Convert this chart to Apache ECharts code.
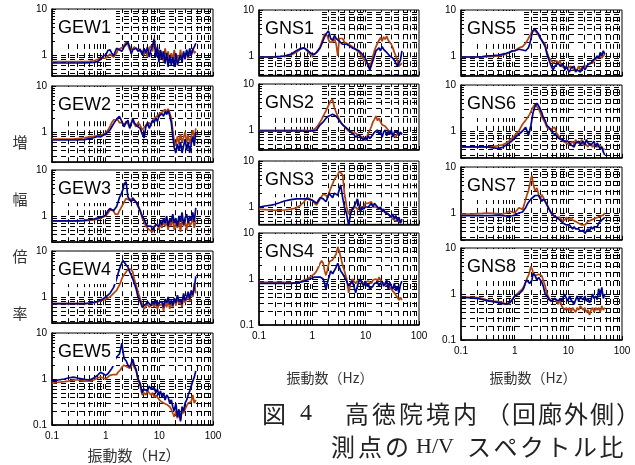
<!DOCTYPE html>
<html>
<head>
<meta charset="utf-8">
<script src="https://cdn.jsdelivr.net/npm/echarts@6/dist/echarts.min.js"></script>
<style>
html, body { margin: 0; padding: 0; background: #fff; }
#chart { width: 635px; height: 465px; }
</style>
</head>
<body>
<div id="chart"></div>
<script>
// Frequency samples (Hz) shared by every H/V curve
const freq = [
  0.1, 0.13, 0.17, 0.2, 0.25, 0.3, 0.4, 0.5, 0.6, 0.7, 0.8, 0.9,
  1.0, 1.1, 1.2, 1.3, 1.4, 1.5, 1.6, 1.7, 1.8, 1.9, 2.0, 2.1, 2.2, 2.4, 2.6, 2.8, 3.0, 3.2, 3.4, 3.7, 4.0, 4.4,
  4.8, 5.2, 5.6, 6.0, 6.5, 7.0, 7.5, 8.0, 8.6, 9.2, 9.8, 10.5, 11.2, 12, 12.8, 13.7, 14.6, 15.6, 16.7, 17.8,
  19, 20.3, 21.7, 23.2, 24.8, 26.5, 28.3, 30.2, 32.3, 34.5, 36.8, 39.3, 42, 44.8, 47.8
];

// H/V spectral ratios: *_o = orange trace, *_b = blue trace
const GEW1_o = [
  0.72,0.72,0.72,0.72,0.72,0.72,0.72,0.73,0.75,0.8,0.85,0.85,
  0.85,0.95,1.05,1.0,0.9, 0.95,1.1,1.3,1.2,1.4, 1.3,1.5,1.6,1.9,1.7, 1.3,1.2,1.35,1.5,1.4, 1.3,1.2,
  1.2,1.0,1.3,0.9,1.4, 1.6,1.2,2.3,1.4,1.0, 1.3,0.8,1.2,0.7,1.4, 0.9,1.2,0.75,1.1,0.8, 1.3,0.7,1.0,0.75,1.3, 0.8,1.1,0.9,1.2,0.85, 1.3,1.0,1.4,1.1,1.2
];
const GEW1_b = [
  0.67,0.67,0.67,0.67,0.67,0.67,0.67,0.68,0.69,0.72,0.8,0.95,
  1.0,1.25,1.3,1.1,0.95, 1.0,1.4,1.5,1.3,1.35, 1.2,1.3,1.5,1.7,1.9, 1.5,1.05,1.3,1.2,1.4, 1.2,1.35,
  1.0,1.4,1.1,1.5,0.9, 1.3,1.6,2.2,0.9,1.5, 0.7,1.3,0.8,1.2,0.65, 1.1,0.55,1.0,0.6,0.9, 0.55,1.1,0.6,0.8,1.0, 0.7,1.2,0.8,1.3,0.9, 1.4,1.0,1.3,1.5,1.8
];
const GEW2_o = [
  0.7,0.7,0.7,0.7,0.7,0.72,0.75,0.78,0.8,0.82,0.85,0.9,
  0.95,1.1,1.3,1.6,1.8, 2.0,2.0,1.8,1.6,1.5, 1.6,1.5,1.4,1.7,1.5, 1.3,1.6,1.8,1.5,1.3, 1.6,1.4,
  1.1,1.0,1.4,1.3,1.6, 1.4,1.8,1.7,2.1,1.9, 2.4,2.2,2.7,2.5,3.1, 2.7,3.2,2.6,2.0,1.1, 0.6,0.5,0.8,0.55,0.9, 0.6,0.75,1.0,0.6,0.85, 0.55,0.8,1.1,0.7,1.2
];
const GEW2_b = [
  0.67,0.67,0.67,0.67,0.67,0.67,0.68,0.72,0.75,0.8,0.78,0.85,
  0.9,1.0,1.1,1.3,1.5, 1.7,1.9,2.1,2.2,2.0, 1.7,1.5,1.3,1.6,1.8, 1.2,1.5,2.0,1.6,1.4, 1.5,1.2,
  0.9,0.75,1.3,1.6,1.2, 1.5,1.8,1.6,2.0,1.7, 2.2,2.0,2.5,2.2,2.8, 2.4,2.9,2.3,1.6,0.8, 0.45,0.35,0.55,0.4,0.6, 0.35,0.5,0.7,0.4,0.6, 0.35,0.55,0.8,0.5,1.0
];
const GEW3_o = [
  0.78,0.78,0.78,0.78,0.78,0.78,0.79,0.8,0.82,0.85,0.9,0.95,
  1.0,1.15,1.35,1.45,1.3, 1.1,1.0,1.1,1.3,1.45, 1.6,1.8,2.0,2.4,2.3, 2.2,2.3,2.5,2.4,2.0, 1.6,1.3,
  0.9,0.75,0.6,0.55,0.5, 0.55,0.45,0.6,0.55,0.65, 0.5,0.7,0.55,0.8,0.6, 0.75,0.5,0.8,0.6,0.9, 0.5,0.7,0.55,0.8,0.45, 0.9,0.6,0.75,0.5,0.85, 0.6,0.7,0.9,0.55,0.8
];
const GEW3_b = [
  0.78,0.78,0.78,0.78,0.78,0.78,0.8,0.83,0.86,0.9,0.93,0.98,
  1.05,1.3,1.45,1.4,1.3, 1.35,1.6,2.0,2.5,2.8, 3.0,3.8,5.0,5.5,2.6, 2.4,2.0,2.4,2.6,2.0, 1.7,1.3,
  1.0,0.85,0.7,0.6,0.55, 0.6,0.5,0.55,0.65,0.7, 0.6,0.8,0.65,0.9,0.7, 1.0,0.6,0.85,0.75,1.1, 0.7,0.9,0.6,1.0,0.75, 1.2,0.65,0.9,1.1,0.7, 1.0,0.8,1.2,0.75,1.5
];
const GEW4_o = [
  0.72,0.72,0.72,0.72,0.72,0.72,0.72,0.73,0.75,0.78,0.82,0.86,
  0.9,0.95,1.0,1.1,1.2, 1.3,1.4,1.6,1.8,2.1, 2.5,2.8,3.0,3.5,4.0, 4.2,4.0,3.5,2.5,1.8, 1.3,0.9,
  0.7,0.55,0.6,0.7,0.6, 0.55,0.7,0.6,0.75,0.55, 0.65,0.6,0.7,0.5,0.8, 0.6,0.85,0.55,0.75,0.6, 0.9,0.65,1.0,0.7,0.8, 0.6,1.1,0.75,0.9,1.2, 0.8,1.3,1.0,2.0,1.2
];
const GEW4_b = [
  0.72,0.72,0.72,0.72,0.72,0.72,0.72,0.74,0.77,0.8,0.85,0.92,
  1.0,1.1,1.2,1.3,1.6, 2.0,2.5,3.2,4.0,4.8, 5.5,6.2,6.5,5.0,4.5, 3.5,3.0,2.5,2.0,1.5, 1.0,0.8,
  0.6,0.55,0.7,0.8,0.75, 0.65,0.8,0.7,0.85,0.65, 0.75,0.7,0.8,0.6,0.9, 0.75,1.0,0.7,0.85,0.65, 0.95,0.75,1.1,0.8,0.9, 0.7,1.2,0.85,1.0,1.3, 0.9,1.4,1.1,1.6,2.8
];
const GEW5_o = [
  0.8,0.85,0.88,0.9,0.95,0.95,0.9,0.9,0.95,1.05,1.1,1.05,
  1.0,1.1,1.2,1.15,1.25, 1.3,1.25,1.4,1.5,1.6, 1.8,1.7,2.0,1.9,1.8, 1.7,1.9,2.2,1.8,1.5, 1.0,0.7,
  0.45,0.5,0.45,0.55,0.5, 0.45,0.5,0.4,0.45,0.4, 0.38,0.33,0.36,0.3,0.33, 0.28,0.3,0.25,0.22,0.18, 0.15,0.2,0.14,0.17,0.13, 0.2,0.18,0.22,0.26,0.3, 0.28,0.32,0.45,0.3,0.35
];
const GEW5_b = [
  0.9,0.95,1.0,1.05,1.1,1.05,0.98,0.95,1.05,1.2,1.4,1.3,
  1.2,1.3,1.5,1.7,2.0, 2.6,3.0,3.2,3.5,4.5, 6.0,4.0,2.8,2.5,2.0, 1.8,2.2,2.7,2.0,1.6, 1.0,0.8,
  0.5,0.6,0.65,0.55,0.7, 0.6,0.55,0.65,0.5,0.6, 0.45,0.55,0.4,0.5,0.35, 0.45,0.4,0.3,0.35,0.25, 0.2,0.3,0.15,0.22,0.12, 0.25,0.2,0.3,0.35,0.45, 0.55,0.7,0.9,1.1,1.5
];
const GNS1_o = [
  0.95,0.95,0.95,0.95,0.97,1.0,1.05,1.2,1.4,1.5,1.3,1.1,
  1.0,1.1,1.2,1.35,1.6, 2.0,2.5,3.0,3.3,2.8, 2.3,2.0,2.2,2.0,2.4, 1.8,1.0,2.4,2.6,2.4, 2.0,1.9,
  1.8,1.7,1.6,1.5,1.4, 1.3,1.2,1.1,0.95,0.85, 0.8,0.7,0.65,0.6,0.75, 1.0,1.3,1.6,1.9,2.2, 2.5,2.1,2.6,2.3,2.7, 2.2,2.4,1.8,1.5,1.2, 1.0,0.8,0.6,0.55,0.7
];
const GNS1_b = [
  0.95,0.95,0.95,0.96,0.98,1.0,1.1,1.3,1.45,1.5,1.35,1.2,
  1.1,1.1,1.2,1.3,1.5, 1.8,2.2,2.6,3.0,3.3, 3.5,3.0,2.4,2.2,2.8, 2.4,2.3,2.1,2.0,1.8, 1.7,1.8,
  1.7,1.8,1.5,1.6,1.4, 1.5,1.3,1.4,1.1,1.0, 0.9,0.75,0.6,0.5,0.55, 0.8,1.0,1.3,1.2,1.5, 1.3,1.6,1.4,1.5,1.2, 1.3,1.0,1.1,0.9,0.8, 0.7,0.6,0.55,0.8,1.3
];
const GNS2_o = [
  0.98,0.98,0.98,0.98,0.98,0.98,0.98,0.98,0.98,0.98,0.97,0.98,
  1.0,1.05,1.15,1.3,1.5, 1.7,2.0,2.3,2.6,3.0, 3.4,3.8,4.3,4.6,3.0, 2.4,2.0,1.7,1.5,1.3, 1.2,1.05,
  0.95,0.9,0.9,0.85,0.85, 0.8,0.75,0.8,0.7,0.65, 0.6,0.7,0.85,1.0,1.2, 1.5,1.7,2.0,1.6,1.8, 1.5,1.3,1.4,1.2,1.1, 1.0,0.9,0.95,0.8,0.75, 0.7,0.85,0.75,0.9,0.8
];
const GNS2_b = [
  0.95,0.95,0.95,0.95,0.95,0.95,0.95,0.95,0.95,0.94,0.94,0.95,
  0.95,0.97,1.0,1.1,1.3, 1.4,1.5,1.6,1.8,1.9, 2.0,2.1,2.1,2.2,2.2, 2.0,1.8,1.6,1.5,1.3, 1.2,1.1,
  1.0,0.9,0.85,0.8,0.7, 0.75,0.8,0.7,0.75,0.6, 0.7,0.6,0.75,0.65,0.6, 0.8,0.9,0.85,1.0,0.8, 0.95,0.7,0.9,1.0,0.75, 0.95,0.8,1.0,0.7,0.9, 0.85,0.95,0.75,0.9,0.8
];
const GNS3_o = [
  0.9,0.88,0.86,0.85,0.85,0.86,0.9,0.95,1.1,1.3,1.6,1.5,
  1.4,1.2,1.1,1.2,1.5, 1.7,1.9,2.0,1.8,1.6, 1.8,2.2,2.5,3.2,4.0, 4.5,5.0,6.0,5.5,5.0, 2.0,1.0,
  0.7,0.8,0.9,0.95,1.0, 0.9,0.95,1.0,1.1,1.0, 1.2,1.1,1.2,1.1,1.3, 1.0,1.1,1.0,0.95,0.9, 0.85,0.9,0.8,0.85,0.75, 0.7,0.65,0.6,0.55,0.6, 0.5,0.55,0.5,0.45,0.5
];
const GNS3_b = [
  1.0,1.05,1.1,1.15,1.25,1.35,1.45,1.5,1.5,1.5,1.5,1.45,
  1.4,1.3,1.2,1.4,1.6, 1.7,1.5,1.4,1.3,1.5, 1.8,2.0,1.8,1.6,2.0, 2.2,1.8,2.4,3.0,1.6, 1.0,0.7,
  0.4,0.7,0.9,1.0,1.2, 1.5,1.1,0.8,1.0,0.9, 1.0,1.1,1.0,1.1,1.2, 1.0,1.2,1.1,1.0,0.9, 1.0,0.8,0.9,0.75,0.8, 0.7,0.75,0.6,0.7,0.55, 0.65,0.5,0.6,0.45,0.55
];
const GNS4_o = [
  0.85,0.85,0.85,0.85,0.85,0.85,0.83,0.82,0.88,0.95,1.0,1.1,
  1.2,1.3,1.5,1.8,2.2, 2.5,2.2,1.5,1.2,1.5, 2.0,2.4,2.5,2.6,2.8, 3.5,5.0,4.0,3.0,2.0, 1.5,1.0,
  0.5,0.8,1.0,0.9,0.8, 0.9,0.85,0.9,0.8,0.75, 0.85,0.8,0.9,0.85,0.8, 0.95,0.9,1.0,0.9,1.1, 0.95,0.85,0.8,0.75,0.8, 0.7,0.75,0.6,0.55,0.5, 0.45,0.4,0.35,0.4,0.35
];
const GNS4_b = [
  0.8,0.8,0.8,0.8,0.8,0.8,0.8,0.82,0.85,0.9,0.95,1.0,
  1.05,1.1,1.1,1.0,1.1, 1.2,1.0,0.8,0.6,0.8, 1.0,1.2,1.5,1.3,1.4, 1.8,2.2,1.8,1.5,1.3, 1.2,0.9,
  0.7,0.8,0.9,0.7,0.5, 0.7,0.9,1.0,0.8,0.7, 0.9,0.7,0.8,0.6,0.55, 0.7,0.8,0.75,0.85,0.7, 0.8,0.9,0.7,0.8,0.95, 0.6,0.85,0.7,0.6,0.8, 0.55,0.7,0.5,0.75,0.9
];
const GNS5_o = [
  0.95,0.95,0.95,0.95,0.96,0.97,0.98,1.0,1.05,1.1,1.2,1.3,
  1.3,1.4,1.5,1.55,1.6, 1.7,1.9,2.1,2.4,2.7, 3.0,3.5,3.8,3.6,3.3, 2.8,2.4,2.2,2.0,1.8, 1.2,0.9,
  0.8,0.7,0.75,0.8,0.7, 0.8,0.6,0.65,0.55,0.6, 0.55,0.5,0.6,0.55,0.5, 0.55,0.5,0.6,0.5,0.55, 0.6,0.55,0.6,0.65,0.7, 0.65,0.7,0.8,0.75,0.9, 0.85,1.0,0.9,1.0,1.1
];
const GNS5_b = [
  0.95,0.95,0.95,0.95,0.97,1.0,1.02,1.05,1.1,1.15,1.2,1.28,
  1.3,1.35,1.4,1.38,1.35, 1.3,1.3,1.4,1.5,1.8, 2.3,3.0,3.6,3.8,3.5, 3.0,2.5,2.2,2.0,1.6, 1.1,0.8,
  0.6,0.5,0.6,0.55,0.7, 0.6,0.55,0.65,0.5,0.6, 0.5,0.45,0.55,0.5,0.6, 0.45,0.5,0.55,0.45,0.5, 0.6,0.5,0.55,0.65,0.6, 0.7,0.8,0.75,0.9,1.0, 0.9,1.2,1.0,1.3,1.1
];
const GNS6_o = [
  0.45,0.45,0.45,0.45,0.45,0.45,0.46,0.48,0.5,0.55,0.62,0.7,
  0.8,0.9,1.0,1.2,1.4, 1.5,1.7,1.9,2.0,2.3, 2.6,3.0,3.3,3.8,4.0, 3.0,2.5,2.0,1.8,1.5, 1.2,1.1,
  1.1,1.0,1.2,0.9,0.8, 0.7,0.75,0.6,0.65,0.55, 0.6,0.5,0.55,0.6,0.5, 0.65,0.55,0.6,0.55,0.65, 0.5,0.55,0.5,0.45,0.55, 0.5,0.45,0.5,0.55,0.45, 0.5,0.55,0.45,0.4,0.4
];
const GNS6_b = [
  0.45,0.45,0.45,0.45,0.45,0.45,0.43,0.42,0.44,0.5,0.55,0.62,
  0.7,0.78,0.85,0.9,1.0, 1.1,1.2,1.0,0.8,1.0, 1.3,1.8,2.5,3.5,4.0, 3.5,3.0,2.5,2.0,1.7, 1.3,1.2,
  1.0,0.9,0.85,0.8,0.7, 0.75,0.65,0.7,0.6,0.55, 0.6,0.55,0.5,0.55,0.45, 0.55,0.5,0.6,0.5,0.55, 0.6,0.5,0.65,0.55,0.6, 0.5,0.55,0.6,0.45,0.55, 0.5,0.4,0.45,0.35,0.3
];
const GNS7_o = [
  0.95,0.95,0.96,0.97,0.98,1.0,0.98,0.96,0.95,1.0,1.1,1.05,
  1.0,1.15,1.3,1.25,1.2, 1.5,2.0,2.5,3.0,4.0, 5.5,6.5,4.5,3.0,3.5, 2.5,2.0,2.5,2.2,1.8, 1.5,1.2,
  1.0,0.9,0.85,0.8,0.75, 0.8,0.7,0.75,0.7,0.8, 0.75,0.7,0.8,0.7,0.75, 0.65,0.7,0.6,0.65,0.55, 0.6,0.55,0.6,0.65,0.6, 0.7,0.65,0.75,0.7,0.8, 0.75,0.85,0.8,0.9,1.0
];
const GNS7_b = [
  0.88,0.88,0.88,0.88,0.88,0.88,0.89,0.9,0.88,0.86,0.85,0.87,
  0.9,0.95,1.0,1.0,1.05, 1.1,1.3,1.5,1.7,1.8, 2.0,2.1,2.2,2.4,2.5, 2.4,2.3,1.8,2.0,1.8, 1.5,1.2,
  1.0,0.9,0.85,0.8,0.75, 0.7,0.65,0.6,0.6,0.55, 0.5,0.55,0.5,0.45,0.5, 0.45,0.42,0.45,0.4,0.38, 0.42,0.36,0.4,0.45,0.4, 0.5,0.45,0.5,0.55,0.5, 0.6,0.55,0.7,0.65,0.8
];
const GNS8_o = [
  0.85,0.85,0.85,0.84,0.8,0.75,0.7,0.68,0.65,0.6,0.62,0.75,
  0.9,1.0,1.1,1.2,1.3, 1.5,1.8,2.2,2.5,3.0, 4.0,3.5,3.0,2.5,2.6, 2.7,2.6,2.5,2.6,1.5, 1.0,0.8,
  0.7,0.75,0.8,0.7,0.6, 0.75,0.55,0.5,0.45,0.5, 0.45,0.5,0.4,0.5,0.45, 0.4,0.5,0.45,0.55,0.5, 0.45,0.5,0.4,0.45,0.35, 0.45,0.5,0.4,0.5,0.45, 0.5,0.4,0.55,0.45,0.5
];
const GNS8_b = [
  0.85,0.83,0.81,0.8,0.76,0.72,0.68,0.65,0.62,0.6,0.65,0.75,
  0.9,0.95,1.0,1.05,1.2, 1.4,1.8,2.0,1.9,1.7, 1.6,2.0,2.8,2.5,2.0, 2.3,2.5,1.8,1.5,1.0, 0.9,0.75,
  0.7,0.75,0.8,0.75,0.7, 0.8,0.7,0.75,1.0,0.8, 0.7,0.9,0.75,0.8,0.6, 0.75,0.9,0.7,0.85,0.8, 0.75,0.9,0.7,0.8,0.65, 0.75,1.0,0.8,0.9,0.75, 1.3,0.9,1.4,0.8,1.0
];

const panelNames = ['GEW1','GEW2','GEW3','GEW4','GEW5','GNS1','GNS2','GNS3','GNS4','GNS5','GNS6','GNS7','GNS8'];
const traces = {
  GEW1: [GEW1_o, GEW1_b], GEW2: [GEW2_o, GEW2_b], GEW3: [GEW3_o, GEW3_b], GEW4: [GEW4_o, GEW4_b], GEW5: [GEW5_o, GEW5_b],
  GNS1: [GNS1_o, GNS1_b], GNS2: [GNS2_o, GNS2_b], GNS3: [GNS3_o, GNS3_b], GNS4: [GNS4_o, GNS4_b],
  GNS5: [GNS5_o, GNS5_b], GNS6: [GNS6_o, GNS6_b], GNS7: [GNS7_o, GNS7_b], GNS8: [GNS8_o, GNS8_b]
};
// lower limit of each panel's amplitude axis
const yMin = {
  GEW1: 0.35, GEW2: 0.22, GEW3: 0.27, GEW4: 0.27, GEW5: 0.1,
  GNS1: 0.38, GNS2: 0.37, GNS3: 0.42, GNS4: 0.1,
  GNS5: 0.37, GNS6: 0.26, GNS7: 0.26, GNS8: 0.1
};

// ---- layout ----
const DECADE_PX = 46;          // vertical pixels per decade
const placement = {            // [left, top, width, shows frequency labels]
  GEW1: [52, 9, 161, false], GEW2: [52, 86, 161, false], GEW3: [52, 170, 161, false],
  GEW4: [52, 251, 161, false], GEW5: [52, 333, 161, true],
  GNS1: [259, 10, 160, false], GNS2: [259, 84, 160, false], GNS3: [259, 161, 160, false], GNS4: [259, 233, 160, true],
  GNS5: [461, 10, 161, false], GNS6: [461, 85, 161, false], GNS7: [461, 167, 161, false], GNS8: [461, 248, 161, true]
};
const ORANGE = '#b3430c';
const BLUE = '#00048c';
const TICK_FONT = 'Liberation Sans, Arial, sans-serif';
const JP_FONT = '"Noto Sans CJK JP", sans-serif';

function decadeLabel(v) {
  const l = Math.log10(v);
  const r = Math.round(l);
  if (Math.abs(l - r) > 1e-6) return '';
  return r < 0 ? v.toFixed(-r) : String(Math.round(v));
}

// dashed log grid positions (multiples 1..9 of each decade)
function logGrid(lo, hi) {
  const out = [];
  for (let d = 0.01; d < hi; d *= 10) {
    for (let k = 1; k <= 9; k++) {
      const v = +(k * d).toPrecision(3);
      if (v > lo * 1.0001 && v < hi * 0.9999) out.push(v);
    }
  }
  return out;
}

const grids = [], xAxes = [], yAxes = [], series = [], titles = [];
panelNames.forEach((name, i) => {
  const [left, top, width, showX] = placement[name];
  const ymin = yMin[name];
  const height = (1 - Math.log10(ymin)) * DECADE_PX;
  grids.push({ left, top, width, height, show: true, borderColor: '#000', borderWidth: 1, backgroundColor: '#fff' });
  xAxes.push({
    type: 'log', logBase: 10, gridIndex: i, min: 0.1, max: 100,
    axisLine: { show: true, lineStyle: { color: '#000', width: 1.5 } },
    axisTick: { show: true, inside: true, length: 4, lineStyle: { color: '#000' } },
    splitLine: { show: false },
    axisLabel: { show: showX, formatter: decadeLabel, fontSize: 10, color: '#000', fontFamily: TICK_FONT, margin: 6,
                 showMinLabel: true, showMaxLabel: true }
  });
  yAxes.push({
    type: 'log', logBase: 10, gridIndex: i, min: ymin, max: 10,
    axisLine: { show: true, lineStyle: { color: '#000', width: 1.5 } },
    axisTick: { show: true, inside: true, length: 4, lineStyle: { color: '#000' } },
    splitLine: { show: false },
    axisLabel: { formatter: decadeLabel, fontSize: 10, color: '#000', fontFamily: TICK_FONT, margin: 5,
                 showMinLabel: true, showMaxLabel: true }
  });
  const gridLines = logGrid(ymin, 10).map(v => ({ yAxis: v }))
    .concat(logGrid(0.1, 100).map(v => ({ xAxis: v })));
  series.push({
    type: 'line', xAxisIndex: i, yAxisIndex: i, data: [], silent: true, z: 1,
    markLine: {
      silent: true, symbol: 'none', z: 1, animation: false,
      label: { show: false },
      lineStyle: { color: '#000', width: 1, type: [5, 4] },
      data: gridLines
    }
  });
  const [oVals, bVals] = traces[name];
  [[oVals, ORANGE, 2], [bVals, BLUE, 3]].forEach(([vals, color, z]) => {
    series.push({
      type: 'line', xAxisIndex: i, yAxisIndex: i, z, silent: true,
      showSymbol: false, symbol: 'none', clip: true,
      lineStyle: { color, width: 1.7 },
      data: freq.map((f, k) => [f, vals[k]])
    });
  });
  titles.push({
    text: name, left: left + 3, top: top + 1, z: 10,
    padding: [9, 5, 5, 3], backgroundColor: '#fff',
    textStyle: { fontFamily: TICK_FONT, fontSize: 18, fontWeight: 'normal', color: '#000' }
  });
});

// text placed one glyph at a time with a fixed pitch
function spaced(str, x, step, y, size, font, color) {
  return Array.from(str).map((ch, k) => ({
    type: 'text', x: x + k * step, y, silent: true,
    style: { text: ch, font: size + 'px ' + font, fill: color, textVerticalAlign: 'middle' }
  }));
}

const graphics = [];
['増', '幅', '倍', '率'].forEach((ch, k) => {
  graphics.push({ type: 'text', x: 20, y: 142 + k * 57, silent: true,
    style: { text: ch, font: '15px ' + JP_FONT, fill: '#333', textAlign: 'center', textVerticalAlign: 'middle' } });
});
[[134, 455, 15], [330, 378, 14], [533, 378, 14]].forEach(([x, y, s]) => {
  graphics.push({ type: 'text', x, y, silent: true,
    style: { text: '振動数（Hz）', font: s + 'px ' + JP_FONT, fill: '#333', textAlign: 'center', textVerticalAlign: 'middle' } });
});
const CAP = '#222';
graphics.push(...spaced('図', 262, 0, 414, 24, JP_FONT, CAP));
graphics.push({ type: 'text', x: 300, y: 414, silent: true,
  style: { text: '4', font: '24px "Liberation Serif", serif', fill: CAP, textVerticalAlign: 'middle' } });
graphics.push(...spaced('高徳院境内', 345, 27, 414, 24, JP_FONT, CAP));
graphics.push(...spaced('（回廊外側）', 486, 26, 414, 24, JP_FONT, CAP));
graphics.push(...spaced('測点の', 331, 27, 447, 24, JP_FONT, CAP));
graphics.push({ type: 'text', x: 416, y: 447, silent: true,
  style: { text: 'H/V', font: '22px "Liberation Serif", serif', fill: CAP, textVerticalAlign: 'middle' } });
graphics.push(...spaced('スペクトル比', 467, 26.5, 447, 24, JP_FONT, CAP));

const chart = echarts.init(document.getElementById('chart'), null, { renderer: 'canvas' });
chart.setOption({
  animation: false,
  backgroundColor: '#fff',
  title: titles,
  grid: grids,
  xAxis: xAxes,
  yAxis: yAxes,
  series,
  graphic: graphics
});
</script>
</body>
</html>
